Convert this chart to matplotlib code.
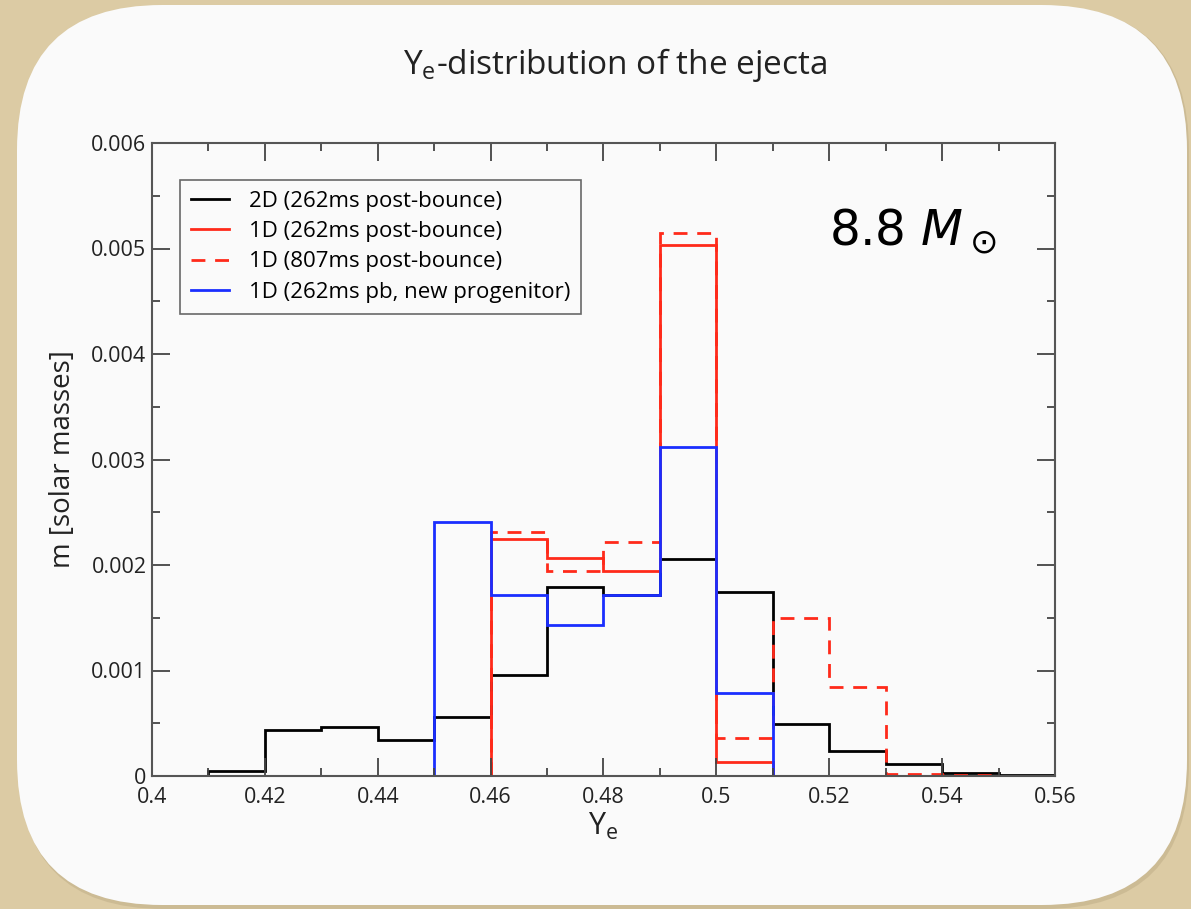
import numpy as np
import matplotlib
matplotlib.use("Agg")
from matplotlib import pyplot as plt
from matplotlib.lines import Line2D
from matplotlib.patches import FancyBboxPatch
from matplotlib.ticker import MultipleLocator, FuncFormatter

# Ye bin edges (width 0.01) and ejecta mass per bin [solar masses]
bin_edges = [0.41, 0.42, 0.43, 0.44, 0.45, 0.46, 0.47, 0.48,
             0.49, 0.50, 0.51, 0.52, 0.53, 0.54, 0.55, 0.56]
mass_2d_262 = [0.00005, 0.00044, 0.00046, 0.00034, 0.00056, 0.00096, 0.00179,
               0.00172, 0.00206, 0.00174, 0.00049, 0.00024, 0.00011, 0.00003, 0.00001]
mass_1d_262 = [0.0, 0.0, 0.0, 0.0, 0.0, 0.00225, 0.00207,
               0.00194, 0.00503, 0.00013, 0.0, 0.0, 0.0, 0.0, 0.0]
mass_1d_807 = [0.0, 0.0, 0.0, 0.0, 0.0, 0.00231, 0.00194,
               0.00222, 0.00515, 0.00036, 0.00150, 0.00084, 0.00002, 0.00001, 0.0]
mass_1d_new = [0.0, 0.0, 0.0, 0.0, 0.00241, 0.00172, 0.00143,
               0.00172, 0.00312, 0.00079, 0.0, 0.0, 0.0, 0.0, 0.0]

labels = ["2D (262ms post-bounce)", "1D (262ms post-bounce)",
          "1D (807ms post-bounce)", "1D (262ms pb, new progenitor)"]

plt.rcParams["font.family"] = ["Open Sans", "DejaVu Sans"]
plt.rcParams["mathtext.fontset"] = "dejavusans"

fig = plt.figure(figsize=(11.91, 9.09), dpi=100, facecolor="#dccba4")

# rounded white panel behind the chart (pixel coordinates)
shadow = FancyBboxPatch((19, 0), 1170, 903, boxstyle="round,pad=0,rounding_size=145",
                        transform=None, facecolor="#a89670", edgecolor="none",
                        alpha=0.3, zorder=-2)
panel = FancyBboxPatch((17, 4), 1170, 900, boxstyle="round,pad=0,rounding_size=145",
                       transform=None, facecolor="#fafafa", edgecolor="none", zorder=-1)
fig.patches.extend([shadow, panel])

ax = fig.add_axes([152 / 1191, 133 / 909, 903 / 1191, 633 / 909])
ax.set_facecolor("#fafafa")

lw = 2.0
ax.stairs(mass_2d_262, bin_edges, color="black", lw=lw, baseline=0)
ax.stairs(mass_1d_807, bin_edges, color="#ff2a1a", lw=lw, baseline=0, linestyle=(0, (5, 3.5)))
ax.stairs(mass_1d_262, bin_edges, color="#ff2a1a", lw=lw, baseline=0)
ax.stairs(mass_1d_new, bin_edges, color="#1a2eff", lw=lw, baseline=0)

ax.set_xlim(0.4, 0.56)
ax.set_ylim(0, 0.006)

ax.xaxis.set_major_locator(MultipleLocator(0.02))
ax.xaxis.set_minor_locator(MultipleLocator(0.01))
ax.yaxis.set_major_locator(MultipleLocator(0.001))
ax.yaxis.set_minor_locator(MultipleLocator(0.0005))
ax.xaxis.set_major_formatter(FuncFormatter(lambda v, p: f"{v:g}"))
ax.yaxis.set_major_formatter(FuncFormatter(lambda v, p: f"{round(v, 4):g}"))

ax.tick_params(which="both", direction="in", top=True, right=True,
               color="#444444", width=1.3, labelsize=15.5, labelcolor="#222222")
ax.tick_params(axis="x", which="major", length=13, pad=8)
ax.tick_params(axis="y", which="major", length=13, pad=4)
ax.tick_params(which="minor", length=6)
for s in ax.spines.values():
    s.set_color("#555555")
    s.set_linewidth(1.5)

ax.set_xlabel("Y$_\\mathregular{e}$", fontsize=22, labelpad=2, color="#222222")
ax.set_ylabel("m [solar masses]", fontsize=20, labelpad=10, color="#222222")
fig.text(615 / 1191, 1 - 65 / 909, "Y$_\\mathregular{e}$-distribution of the ejecta",
         ha="center", va="center", fontsize=24, color="#222222")

handles = [
    Line2D([], [], color="black", lw=lw),
    Line2D([], [], color="#ff2a1a", lw=lw),
    Line2D([], [], color="#ff2a1a", lw=lw, linestyle=(0, (5, 3.5))),
    Line2D([], [], color="#1a2eff", lw=lw),
]
leg = ax.legend(handles, labels, loc="upper left", bbox_to_anchor=(0.031, 0.942),
                fontsize=16, frameon=True, fancybox=False, handlelength=1.7,
                labelspacing=0.42, borderpad=0.5, handletextpad=0.9, borderaxespad=0)
leg.get_frame().set_edgecolor("#444444")
leg.get_frame().set_linewidth(1.2)
leg.get_frame().set_facecolor("#fafafa")

ax.text(0.935, 0.86, "8.8 $M_\\odot$", transform=ax.transAxes, ha="right", va="center",
        fontsize=35, family="DejaVu Sans", color="black")

fig.savefig("out.png", dpi=100, facecolor=fig.get_facecolor())
